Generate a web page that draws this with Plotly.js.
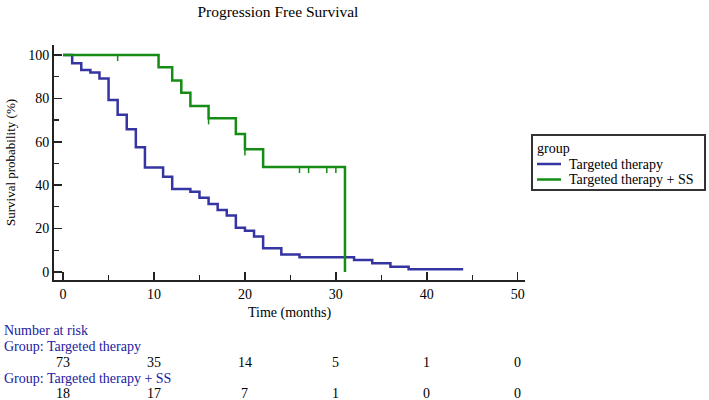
<!DOCTYPE html>
<html>
<head>
<meta charset="utf-8">
<script src="https://cdn.plot.ly/plotly-3.0.1.min.js"></script>
<style>html,body{margin:0;padding:0;background:#fff;}#chart{width:709px;height:400px;}</style>
</head>
<body>
<div id="chart"></div>
<script>
// ---- data ----
const blueName = "Targeted therapy";
const greenName = "Targeted therapy + SS";
const legendTitle = "group";
const blueTimes = [0, 1, 2, 3, 4, 5, 6, 7, 8, 9, 11, 12, 14, 15, 16, 17, 18, 19, 20, 21, 22, 24, 26, 32, 34, 36, 38, 44];
const blueSurv  = [100, 96.2, 93.1, 91.9, 89.2, 79.3, 72.4, 65.8, 57.5, 48.1, 43.9, 38.2, 37.0, 34.2, 31.3, 28.6, 26.0, 20.4, 19.0, 16.3, 10.9, 8.1, 6.8, 5.5, 4.0, 2.4, 1.2, 1.2];
const greenTimes = [0, 10.5, 12, 13, 14, 16, 19, 20, 22, 31];
const greenSurv  = [100, 94.4, 88.2, 82.6, 76.5, 70.8, 63.6, 56.5, 48.4, 0];
const greenCensor = [6, 16, 20, 26, 27, 29, 30];
const riskTimes = [0, 10, 20, 30, 40, 50];
const riskBlue  = [73, 35, 14, 5, 1, 0];
const riskGreen = [18, 17, 7, 1, 0, 0];
const xTicks = [0, 10, 20, 30, 40, 50];
const yTicks = [0, 20, 40, 60, 80, 100];

// ---- styles ----
const BLUE = "#3434a2", GREEN = "#158c15", TXTBLUE = "#2020a0";
const FONT = "Liberation Serif, Times New Roman, serif";
const censorLen = 2.8;

function stepValue(times, surv, t) {
  let v = surv[0];
  for (let i = 0; i < times.length; i++) { if (times[i] <= t) v = surv[i]; }
  return v;
}
const cx = [], cy = [];
greenCensor.forEach(t => {
  const v = stepValue(greenTimes, greenSurv, t);
  cx.push(t, t, null); cy.push(v, v - censorLen, null);
});

const traces = [
  {x: blueTimes, y: blueSurv, mode: "lines", line: {shape: "hv", color: BLUE, width: 2.5}, name: blueName},
  {x: greenTimes, y: greenSurv, mode: "lines", line: {shape: "hv", color: GREEN, width: 2.5}, name: greenName},
  {x: cx, y: cy, mode: "lines", line: {color: GREEN, width: 1.5}, showlegend: false, hoverinfo: "skip"}
];

const plotTop = 45, plotBottom = 280, plotLeft = 54, plotRight = 525;
const ph = plotBottom - plotTop, pw = plotRight - plotLeft;
const py = p => (plotBottom - p) / ph;
const px = p => (p - plotLeft) / pw;

const annotations = [];
const shapes = [];
function label(text, yPix, color, xPix) {
  annotations.push({text, xref: "paper", yref: "paper", x: px(xPix), y: py(yPix), xanchor: "left", yanchor: "middle",
    showarrow: false, font: {family: FONT, size: 14, color}});
}
function nums(vals, yPix) {
  vals.forEach((v, i) => annotations.push({text: String(v), xref: "x", yref: "paper", x: riskTimes[i], y: py(yPix),
    xanchor: "center", yanchor: "middle", showarrow: false, font: {family: FONT, size: 14, color: "#000"}}));
}
label("Number at risk", 330, TXTBLUE, 2);
label("Group: " + blueName, 346, TXTBLUE, 2);
nums(riskBlue, 362);
label("Group: " + greenName, 378, TXTBLUE, 2);
nums(riskGreen, 393);

// legend box (manual, to match compact spacing)
shapes.push({type: "rect", xref: "paper", yref: "paper", x0: px(532), x1: px(705), y0: py(135), y1: py(190),
  line: {color: "#333", width: 2}, fillcolor: "#fff", layer: "above"});
label(legendTitle, 148, "#000", 535);
[[blueName, BLUE, 164], [greenName, GREEN, 179.5]].forEach(([n, c, y]) => {
  shapes.push({type: "line", xref: "paper", yref: "paper", x0: px(537), x1: px(561), y0: py(y), y1: py(y),
    line: {color: c, width: 2.5}, layer: "above"});
  label(n, y, "#000", 567);
});

const layout = {
  width: 709, height: 400,
  margin: {l: plotLeft, r: 709 - plotRight, t: plotTop, b: 400 - plotBottom},
  paper_bgcolor: "#fff", plot_bgcolor: "#fff",
  font: {family: FONT, size: 14, color: "#000"},
  title: {text: "Progression Free Survival", x: 0.392, xanchor: "center", y: 0.97, yanchor: "middle", yref: "container",
    font: {family: FONT, size: 15.5, color: "#000"}},
  xaxis: {range: [-1, 50.8], tickvals: xTicks, ticktext: xTicks.map(String), ticks: "inside", ticklen: 8, tickwidth: 1.5,
    tickcolor: "#222", showline: true, linecolor: "#222", linewidth: 2, showgrid: false, zeroline: false,
    minor: {dtick: 5, tick0: 0, ticks: "inside", ticklen: 5, tickwidth: 1.2, tickcolor: "#222", showgrid: false},
    title: {text: "Time (months)", standoff: 6, font: {family: FONT, size: 14}}, tickfont: {family: FONT, size: 14}},
  yaxis: {range: [-3.7, 104.6], tickvals: yTicks, ticktext: yTicks.map(String), ticks: "inside", ticklen: 8, tickwidth: 1.5,
    tickcolor: "#222", showline: true, linecolor: "#222", linewidth: 2, showgrid: false, zeroline: false,
    minor: {dtick: 10, tick0: 0, ticks: "inside", ticklen: 5, tickwidth: 1.2, tickcolor: "#222", showgrid: false},
    title: {text: "Survival probability (%)", standoff: 10, font: {family: FONT, size: 13}}, tickfont: {family: FONT, size: 14}},
  annotations, shapes,
  showlegend: false
};

Plotly.newPlot("chart", traces, layout, {staticPlot: true, displayModeBar: false});
</script>
</body>
</html>
